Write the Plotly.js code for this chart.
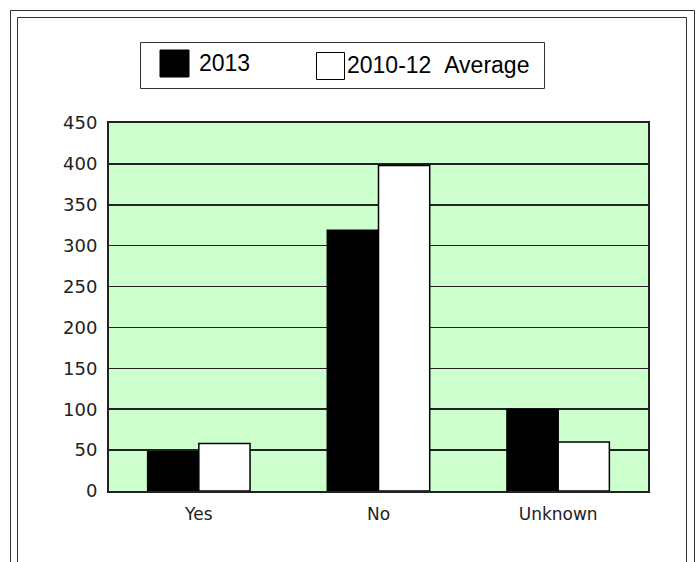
<!DOCTYPE html>
<html>
<head>
<meta charset="utf-8">
<script src="https://cdn.plot.ly/plotly-3.0.1.min.js"></script>
<style>html,body{margin:0;padding:0;background:#fff;}#chart{width:698px;height:562px;}</style>
</head>
<body>
<div id="chart"></div>
<script>
// Data
var categories = ["Yes", "No", "Unknown"];
var seriesNames = ["2013", "2010-12\u00a0\u00a0Average"];
var values2013 = [48, 319, 100];
var valuesAvg = [58, 398, 60];
var yTickValues = [0, 50, 100, 150, 200, 250, 300, 350, 400, 450];

// plot area in pixels
var W = 698, H = 562;
var L = 109, R = 648, T = 123, B = 491;
function px(x) { return (x - L) / (R - L); }
function py(y) { return (B - y) / (B - T); }

var traces = [
  {type: "bar", name: seriesNames[0], x: categories, y: values2013,
   marker: {color: "#000000", line: {color: "#000000", width: 1.5}}, showlegend: false, hoverinfo: "none"},
  {type: "bar", name: seriesNames[1], x: categories, y: valuesAvg,
   marker: {color: "#ffffff", line: {color: "#000000", width: 1.5}}, showlegend: false, hoverinfo: "none"}
];

var shapes = [];
// double frame (open at the bottom)
function frame(l, t, r, c) {
  shapes.push({type: "line", xref: "paper", yref: "paper", x0: px(l), x1: px(l), y0: py(t), y1: py(H + 5), line: {color: c, width: 1}});
  shapes.push({type: "line", xref: "paper", yref: "paper", x0: px(r), x1: px(r), y0: py(t), y1: py(H + 5), line: {color: c, width: 1}});
  shapes.push({type: "line", xref: "paper", yref: "paper", x0: px(l), x1: px(r), y0: py(t), y1: py(t), line: {color: c, width: 1}});
}
frame(10.5, 10.5, 694.5, "#333333");
frame(17.5, 17.5, 686.5, "#333333");
// legend box
shapes.push({type: "rect", xref: "paper", yref: "paper", x0: px(140.5), x1: px(544.5), y0: py(42.5), y1: py(88.5), line: {color: "#333333", width: 1}, fillcolor: "rgba(0,0,0,0)"});
// legend swatches
shapes.push({type: "rect", xref: "paper", yref: "paper", x0: px(160), x1: px(189), y0: py(50), y1: py(77), line: {color: "#000", width: 1}, fillcolor: "#000"});
shapes.push({type: "rect", xref: "paper", yref: "paper", x0: px(316.5), x1: px(344.5), y0: py(52.5), y1: py(79.5), line: {color: "#000", width: 1}, fillcolor: "#fff"});

var annotations = [
  {xref: "paper", yref: "paper", x: px(197), y: py(63), xanchor: "left", yanchor: "middle", showarrow: false,
   text: seriesNames[0], font: {family: "Liberation Sans, Arial, sans-serif", size: 23, color: "#000"}},
  {xref: "paper", yref: "paper", x: px(345), y: py(65), xanchor: "left", yanchor: "middle", showarrow: false,
   text: seriesNames[1], font: {family: "Liberation Sans, Arial, sans-serif", size: 23, color: "#000"}}
];

var layout = {
  width: W, height: H,
  margin: {l: L, r: W - R, t: T, b: H - B, pad: 0},
  paper_bgcolor: "#ffffff",
  plot_bgcolor: "#ccffcc",
  barmode: "group",
  bargap: 0.43,
  bargroupgap: 0,
  showlegend: false,
  xaxis: {
    type: "category",
    showgrid: false, zeroline: false,
    showline: true, linecolor: "#222", linewidth: 2, mirror: true,
    ticks: "", ticklabelstandoff: 7,
    tickfont: {family: "DejaVu Sans, sans-serif", size: 17, color: "#222"}
  },
  yaxis: {
    range: [0, 450],
    tickvals: yTickValues,
    ticktext: yTickValues.map(String),
    showgrid: true, gridcolor: "#222", gridwidth: 1.5,
    zeroline: false,
    showline: true, linecolor: "#222", linewidth: 2, mirror: true,
    ticks: "", ticklabelstandoff: 6,
    tickfont: {family: "DejaVu Sans, sans-serif", size: 18, color: "#222"}
  },
  shapes: shapes,
  annotations: annotations
};

Plotly.newPlot("chart", traces, layout, {displayModeBar: false, staticPlot: true});
</script>
</body>
</html>
